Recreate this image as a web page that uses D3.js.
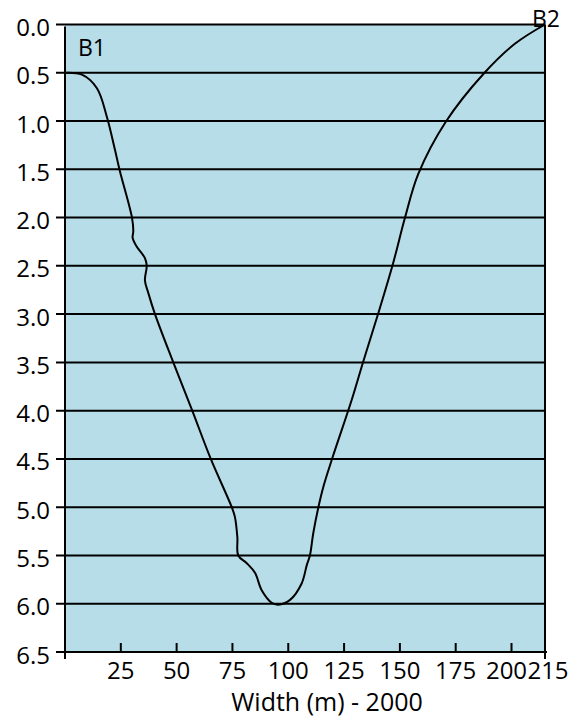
<!DOCTYPE html>
<html>
<head>
<meta charset="utf-8">
<script src="https://cdn.jsdelivr.net/npm/d3@7"></script>
<style>
    body { margin: 0; background: #fff; }
    svg { display: block; font-family: "Open Sans", Lato, sans-serif; }
</style>
</head>
<body>
<div id="chart"></div>
<script>
// depth ticks (m) on the left axis
const depthTicks = [0, 0.5, 1, 1.5, 2, 2.5, 3, 3.5, 4, 4.5, 5, 5.5, 6, 6.5]
// width ticks along the bottom
const widthTicks = [25, 50, 75, 100, 125, 150, 175, 200, 215]
// bank labels
const bankNames = ['B1', 'B2']

// cross section, read from bank B1 to bank B2
const profileWidth = [0, 7.6, 14.3, 18.8, 22.4, 24.6, 30.0, 30.6, 30.3, 32.1, 35.8, 36.6, 35.8, 37.3,
    40.3, 48.5, 57.0, 65.3, 74.7, 76.1, 77.2, 77.6, 81.4, 85.1, 88.1, 92.6, 95.5, 100.8, 106.0,
    108.3, 109.7, 111.2, 113.5, 115.7, 119.9, 128.4, 133.6, 140.6, 147.0, 152.3, 158.2,
    170.5, 187.5, 201.5, 215]
const profileDepth = [0.50, 0.52, 0.66, 0.96, 1.30, 1.52, 2.00, 2.14, 2.21, 2.30, 2.42, 2.50, 2.65, 2.78,
    3.00, 3.50, 4.00, 4.50, 5.00, 5.10, 5.31, 5.50, 5.58, 5.68, 5.86, 5.99, 6.01, 5.96, 5.79,
    5.60, 5.50, 5.27, 5.00, 4.79, 4.48, 3.89, 3.49, 2.97, 2.47, 2.00, 1.55,
    1.01, 0.51, 0.20, 0]

const W = 574, H = 719
const margin = { left: 65, right: 29, top: 24.5, bottom: 67 }

const svg = d3.select('#chart')
    .append('svg')
    .attr('width', W)
    .attr('height', H)

const xScale = d3.scaleLinear().domain([0, 215]).range([margin.left, W - margin.right])
const yScale = d3.scaleLinear().domain([0, 6.5]).range([margin.top, H - margin.bottom])

const x0 = xScale(0), x1 = xScale(215)
const yTop = yScale(0), yBot = yScale(6.5)

//plot background
svg.append('rect')
    .attr('x', x0)
    .attr('y', yTop)
    .attr('width', x1 - x0)
    .attr('height', yBot - yTop)
    .attr('fill', '#b7dde8')

//horizontal grid lines, they stick out left as ticks
svg.append('g')
    .selectAll('line')
    .data(depthTicks)
    .join('line')
    .attr('x1', x0 - 9)
    .attr('x2', d => d === 6.5 ? x1 + 2 : x1)
    .attr('y1', d => yScale(d))
    .attr('y2', d => yScale(d))
    .attr('stroke', '#000')
    .attr('stroke-width', 2)

//y labels
svg.append('g')
    .selectAll('text')
    .data(depthTicks)
    .join('text')
    .attr('x', x0 - 15)
    .attr('y', d => yScale(d) + 2)
    .attr('text-anchor', 'end')
    .attr('dominant-baseline', 'central')
    .style('font-size', '24px')
    .text(d => d3.format('.1f')(d))

//side borders
svg.append('line')
    .attr('x1', x0).attr('x2', x0)
    .attr('y1', yTop + 2).attr('y2', yBot + 7)
    .attr('stroke', '#000').attr('stroke-width', 2)
svg.append('line')
    .attr('x1', x1).attr('x2', x1)
    .attr('y1', yTop).attr('y2', yBot + 7)
    .attr('stroke', '#000').attr('stroke-width', 2)

//x ticks, pointing up into the plot
svg.append('g')
    .selectAll('line')
    .data(widthTicks.filter(d => d !== 215))
    .join('line')
    .attr('x1', d => xScale(d))
    .attr('x2', d => xScale(d))
    .attr('y1', yBot)
    .attr('y2', yBot - 9)
    .attr('stroke', '#000')
    .attr('stroke-width', 2)

//x labels, the last two are pushed apart a bit like in the original
svg.append('g')
    .selectAll('text')
    .data(widthTicks)
    .join('text')
    .attr('x', d => xScale(d) + (d === 200 ? -5 : d === 215 ? 3 : 0))
    .attr('y', yBot + 27)
    .attr('text-anchor', 'middle')
    .style('font-size', '24px')
    .text(d => d)

//x title
svg.append('text')
    .attr('x', (x0 + x1) / 2 + 22)
    .attr('y', yBot + 59)
    .attr('text-anchor', 'middle')
    .style('font-size', '25px')
    .text('Width (m) - 2000')

//cross section line
const profile = profileWidth.map((w, i) => ({ w: w, d: profileDepth[i] }))
const line = d3.line()
    .x(d => xScale(d.w))
    .y(d => yScale(d.d))
    .curve(d3.curveCatmullRom.alpha(0.5))

svg.append('path')
    .datum(profile)
    .attr('fill', 'none')
    .attr('stroke', '#000')
    .attr('stroke-width', 2)
    .attr('d', line)

//bank labels
svg.append('text')
    .attr('x', x0 + 13)
    .attr('y', yScale(0) + 31)
    .style('font-size', '23px')
    .text(bankNames[0])
svg.append('text')
    .attr('x', x1 + 1)
    .attr('y', yScale(0) + 2)
    .attr('text-anchor', 'middle')
    .style('font-size', '23px')
    .text(bankNames[1])
</script>
</body>
</html>
